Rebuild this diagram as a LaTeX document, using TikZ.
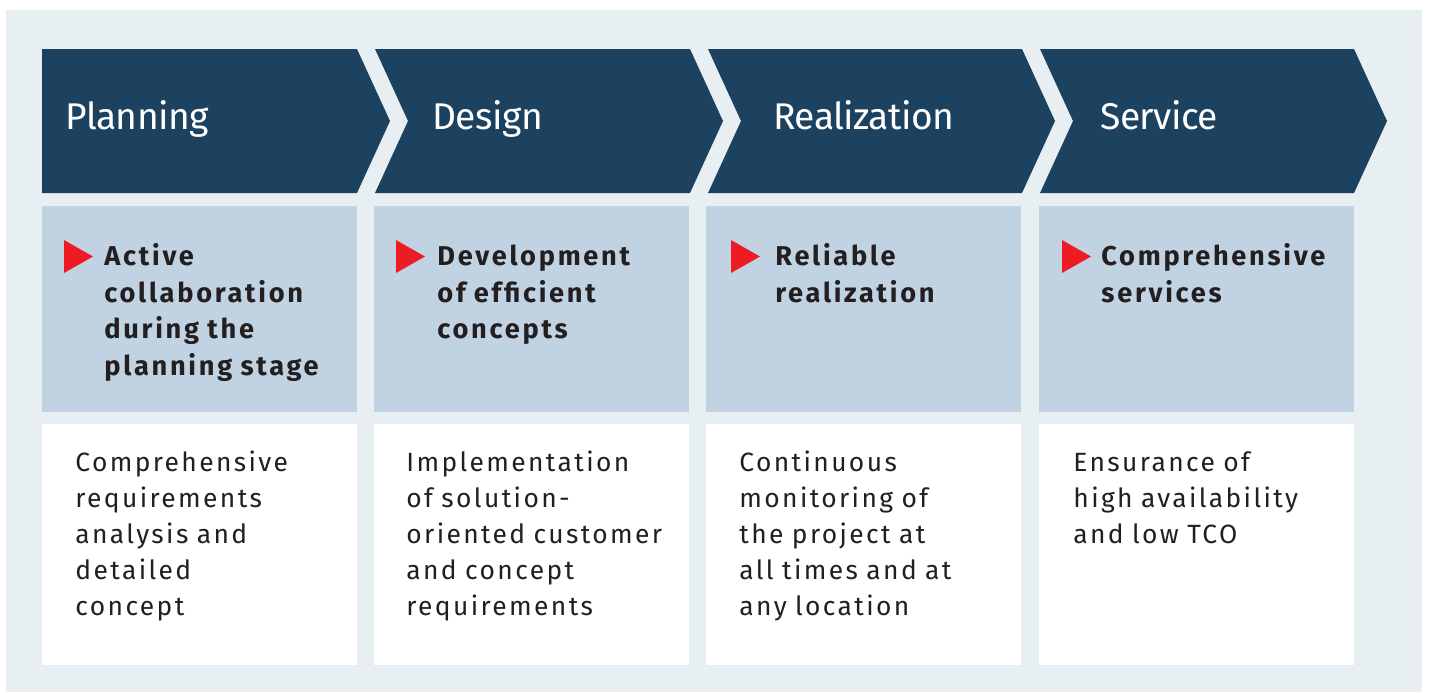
\documentclass[tikz,border=0pt]{standalone}
\usepackage{fontspec}
\setmainfont{Fira Sans}
\newfontfamily\phasefont{Fira Sans}[LetterSpace=-1.5]
\newfontfamily\headfont{Fira Sans}[LetterSpace=10, WordSpace=0.9]
\newfontfamily\bodyfont{Fira Sans}[LetterSpace=9, WordSpace=0.9]
\usetikzlibrary{positioning}
\definecolor{pagetint}{HTML}{E8EFF3}
\definecolor{phasenavy}{HTML}{1D4260}
\definecolor{headblue}{HTML}{C1D3E3}
\definecolor{tickred}{HTML}{ED1C24}
\definecolor{inkdark}{HTML}{231F20}

\tikzset{
	phase/.style={fill=phasenavy},
	phaselabel/.style={anchor=base west, inner sep=0, text=white, font=\phasefont\fontsize{18.6}{22}\selectfont},
	headbox/.style={fill=headblue, anchor=north west, inner sep=0, minimum width=157.5pt, minimum height=103pt},
	bodybox/.style={fill=white, anchor=north west, inner sep=0, minimum width=157.5pt, minimum height=120.5pt},
	headtext/.style={anchor=north west, inner sep=0, align=left, text=inkdark, font=\headfont\bfseries\fontsize{13.6}{18.3}\selectfont},
	bodytext/.style={anchor=north west, inner sep=0, align=left, text=inkdark, font=\bodyfont\fontsize{13.2}{18}\selectfont},
	tick/.style={fill=tickred}
}

\begin{document}
\begin{tikzpicture}[x=0.5pt, y=-0.5pt] % process phases
	
	%background
	\useasboundingbox (0,0) rectangle (1429,692);
	\fill[pagetint] (6,10) rectangle (1422,692);
	
	%chevrons
	\fill[phase] (42,49) -- (357,49) -- (390,121) -- (357,193) -- (42,193) -- cycle;
	\fill[phase] (375,49) -- (690,49) -- (723,121) -- (690,193) -- (375,193) -- (408,121) -- cycle;
	\fill[phase] (708,49) -- (1022,49) -- (1055,121) -- (1022,193) -- (708,193) -- (741,121) -- cycle;
	\fill[phase] (1040,49) -- (1354,49) -- (1387,121) -- (1354,193) -- (1040,193) -- (1073,121) -- cycle;
	
	%phase labels
	\node[phaselabel] (planning) at (65,129) {Planning};
	\node[phaselabel] (design) at (432,129) {Design};
	\node[phaselabel] (realization) at (773,129) {Realization};
	\node[phaselabel] (service) at (1100,129) {Service};
	
	%boxes
	\node[headbox] (head1) at (42,206) {};
	\node[headbox] (head2) at (374,206) {};
	\node[headbox] (head3) at (706,206) {};
	\node[headbox] (head4) at (1039,206) {};
	
	\node[bodybox] (body1) at (42,424) {};
	\node[bodybox] (body2) at (374,424) {};
	\node[bodybox] (body3) at (706,424) {};
	\node[bodybox] (body4) at (1039,424) {};
	
	%red markers
	\fill[tick] (64,240) -- (93,256.5) -- (64,273) -- cycle;
	\fill[tick] (396,240) -- (425,256.5) -- (396,273) -- cycle;
	\fill[tick] (731,240) -- (760,256.5) -- (731,273) -- cycle;
	\fill[tick] (1062,240) -- (1091,256.5) -- (1062,273) -- cycle;
	
	%headlines
	\node[headtext] (goal1) at (104,239.4) {\strut Active\\collaboration\\during the\\planning stage};
	\node[headtext] (goal2) at (437,239.4) {\strut Development\\of efficient\\concepts};
	\node[headtext] (goal3) at (775,239.4) {\strut Reliable\\realization};
	\node[headtext] (goal4) at (1101,239.4) {\strut Comprehensive\\services};
	
	%descriptions
	\node[bodytext] (text1) at (75,445.5) {\strut Comprehensive\\requirements\\analysis and\\detailed\\concept};
	\node[bodytext] (text2) at (406,445.5) {\strut Implementation\\of solution-\\oriented customer\\and concept\\requirements};
	\node[bodytext] (text3) at (739,445.5) {\strut Continuous\\monitoring of\\the project at\\all times and at\\any location};
	\node[bodytext] (text4) at (1073,445.5) {\strut Ensurance of\\high availability\\and low TCO};
	
\end{tikzpicture}
\end{document}
